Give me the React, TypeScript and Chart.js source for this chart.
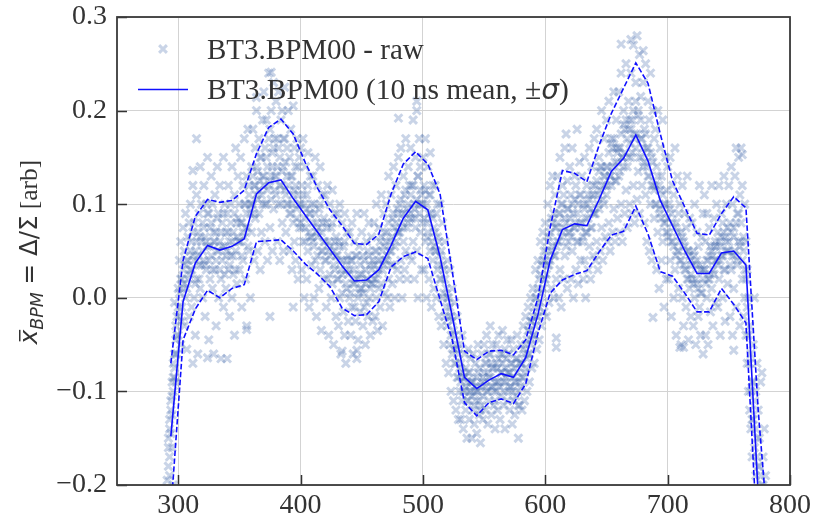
import React, { useEffect, useRef } from "react";
import { Chart, registerables } from "chart.js";

Chart.register(...registerables);

// ---------- tick labels ----------
const xTicks = [300, 400, 500, 600, 700, 800];
const yTicks = [-0.2, -0.1, 0.0, 0.1, 0.2, 0.3];

// ---------- 10 ns mean and ±sigma ----------
const lineX = [294, 304, 314, 324, 334, 344, 354, 364, 374, 384, 394, 404, 414, 424, 434, 444, 454, 464, 474, 484, 494, 504, 514, 524, 534, 544, 554, 564, 574, 584, 594, 604, 614, 624, 634, 644, 654, 664, 674, 684, 694, 704, 714, 724, 734, 744, 754, 764, 774, 784];
const meanY = [-0.148, -0.004, 0.037, 0.056, 0.051, 0.055, 0.063, 0.111, 0.123, 0.126, 0.106, 0.088, 0.070, 0.052, 0.034, 0.018, 0.019, 0.030, 0.056, 0.085, 0.103, 0.094, 0.044, -0.020, -0.085, -0.097, -0.088, -0.081, -0.085, -0.064, -0.018, 0.040, 0.073, 0.079, 0.077, 0.105, 0.135, 0.149, 0.174, 0.146, 0.104, 0.077, 0.050, 0.026, 0.026, 0.048, 0.050, 0.035, -0.210, -0.360];
const upperY = [-0.070, 0.040, 0.087, 0.105, 0.102, 0.104, 0.115, 0.154, 0.182, 0.191, 0.175, 0.144, 0.117, 0.094, 0.077, 0.058, 0.057, 0.068, 0.111, 0.143, 0.156, 0.143, 0.111, 0.028, -0.057, -0.066, -0.057, -0.056, -0.061, -0.045, 0.000, 0.075, 0.136, 0.133, 0.124, 0.163, 0.197, 0.224, 0.251, 0.229, 0.175, 0.125, 0.097, 0.069, 0.067, 0.090, 0.108, 0.096, -0.120, -0.280];
const lowerY = [-0.228, -0.045, -0.012, 0.008, 0.000, 0.010, 0.014, 0.060, 0.061, 0.062, 0.050, 0.036, 0.025, 0.012, -0.011, -0.019, -0.018, -0.004, 0.033, 0.044, 0.049, 0.042, -0.002, -0.045, -0.112, -0.126, -0.112, -0.108, -0.113, -0.092, -0.038, 0.005, 0.019, 0.025, 0.029, 0.049, 0.067, 0.071, 0.098, 0.068, 0.028, 0.023, 0.005, -0.015, -0.015, 0.010, -0.007, -0.027, -0.275, -0.420];

// ---------- raw samples (x, y pairs) : spread ----------
const rawA = [
  291,-.195, 292,-.18, 292,-.16, 293,-.13, 293,-.17, 294,-.11, 294,-.145, 295,-.09, 295,-.125, 296,-.07, 296,-.1, 297,-.06, 297,-.085, 298,-.045, 298,-.03, 299,-.02, 299,-.06, 296,-.2, 293,-.19, 297,-.005,
  300,-.04, 300,.01, 301,-.02, 301,.04, 302,.06, 302,-.05, 303,.02, 303,-.01, 304,.03, 304,.075, 305,-.03, 305,.05, 306,0, 306,.09, 307,.04, 307,-.055, 308,.065, 308,.02, 309,.08, 309,-.02,
  310,.1, 310,.03, 311,-.01, 311,.06, 312,.12, 312,.045, 313,0, 313,.08, 314,.05, 314,-.04, 315,.11, 315,.02, 316,.07, 316,-.06, 317,.09, 317,.035, 318,.14, 318,.01, 319,.06, 319,.1, 315,.17, 312,.136, 312,-.07,
  320,0, 320,.08, 321,.12, 321,.04, 322,-.02, 322,.065, 323,.1, 323,.03, 324,.15, 324,.055, 325,-.045, 325,.09, 326,.02, 326,.075, 327,.13, 327,.045, 328,.01, 328,.1, 329,.06, 329,-.06, 324,-.064,
  330,.11, 330,.03, 331,.07, 331,-.03, 332,.14, 332,.05, 333,0, 333,.09, 334,.06, 334,.12, 335,-.065, 335,.02, 336,.08, 336,.04, 337,.15, 337,-.01, 338,.1, 338,.055, 339,.01, 339,.07,
  340,-.065, 340,.09, 341,.03, 341,.12, 342,.06, 342,-.02, 343,.1, 343,.045, 344,.14, 344,0, 345,.07, 345,.025, 346,.11, 346,-.04, 347,.05, 347,.16, 348,.08, 348,.015, 349,.13, 349,.06,
];
const rawB = [
  350,.1, 350,.03, 351,.15, 351,.06, 352,-.01, 352,.08, 353,.12, 353,.04, 354,.17, 354,.065, 355,.02, 355,.1, 356,.13, 356,-.03, 357,.075, 357,.18, 358,.05, 358,.11, 359,.09, 359,0, 356,-.034,
  360,.14, 360,.07, 361,.18, 361,.1, 362,.04, 362,.12, 363,.16, 363,.085, 364,.2, 364,.11, 365,.05, 365,.135, 366,.09, 366,.17, 367,.125, 367,.03, 368,.15, 368,.07, 369,.19, 369,.1, 364,.214,
  370,.22, 370,.12, 371,.06, 371,.16, 372,.19, 372,.1, 373,.04, 373,.14, 374,.24, 374,.12, 375,.075, 375,.18, 376,.2, 376,.13, 377,.05, 377,.155, 378,.23, 378,.095, 379,.17, 379,.115, 376,.241, 375,-.02,
  380,.21, 380,.13, 381,.06, 381,.17, 382,.22, 382,.1, 383,.15, 383,.04, 384,.19, 384,.12, 385,.08, 385,.2, 386,.14, 386,.05, 387,.17, 387,.225, 388,.11, 388,.07, 389,.16, 389,.13,
  390,.2, 390,.1, 391,.05, 391,.15, 392,.18, 392,.09, 393,.13, 393,.03, 394,.205, 394,.11, 395,.06, 395,.16, 396,.12, 396,.04, 397,.17, 397,.085, 398,.14, 398,.02, 399,.1, 399,.15, 394,-.01,
  400,.16, 400,.08, 401,.03, 401,.12, 402,.17, 402,.06, 403,.1, 403,0, 404,.14, 404,.075, 405,.02, 405,.11, 406,.155, 406,.05, 407,.09, 407,-.01, 408,.13, 408,.065, 409,.1, 409,.035,
  410,.13, 410,.06, 411,0, 411,.1, 412,.15, 412,.04, 413,.08, 413,-.02, 414,.12, 414,.065, 415,.01, 415,.095, 416,.14, 416,.03, 417,.07, 417,-.035, 418,.11, 418,.05, 419,.085, 419,.02,
  420,.11, 420,.04, 421,-.01, 421,.08, 422,.12, 422,.02, 423,.06, 423,-.04, 424,.1, 424,.045, 425,0, 425,.075, 426,.115, 426,.015, 427,.05, 427,-.05, 428,.09, 428,.03, 429,.065, 429,-.02,
  430,.09, 430,.02, 431,-.03, 431,.06, 432,.1, 432,0, 433,.04, 433,-.06, 434,.08, 434,.025, 435,-.015, 435,.055, 436,.09, 436,-.04, 437,.03, 437,-.07, 438,.07, 438,.01, 439,.045, 439,-.025, 434,-.057,
  440,.07, 440,0, 441,-.04, 441,.04, 442,.08, 442,-.01, 443,.03, 443,-.06, 444,.06, 444,.015, 445,-.025, 445,.045, 446,.09, 446,-.065, 447,.02, 447,-.045, 448,.055, 448,.005, 449,.035, 449,-.015, 446,-.056,
];
const rawC = [
  450,.07, 450,.01, 451,-.03, 451,.045, 452,.09, 452,-.01, 453,.03, 453,-.05, 454,.06, 454,.02, 455,-.02, 455,.05, 456,.08, 456,0, 457,.035, 457,-.04, 458,.065, 458,.015, 459,.04, 459,-.025,
  460,.08, 460,.02, 461,-.02, 461,.05, 462,.1, 462,0, 463,.04, 463,-.035, 464,.075, 464,.03, 465,-.01, 465,.06, 466,.11, 466,.015, 467,.05, 467,-.03, 468,.09, 468,.035, 469,.07, 469,.005,
  470,.1, 470,.04, 471,0, 471,.07, 472,.13, 472,.02, 473,.06, 473,-.01, 474,.11, 474,.05, 475,.015, 475,.085, 476,.14, 476,.035, 477,.075, 477,0, 478,.12, 478,.06, 479,.095, 479,.03,
  480,.15, 480,.07, 481,.02, 481,.1, 482,.16, 482,.04, 483,.09, 483,0, 484,.13, 484,.075, 485,.03, 485,.11, 486,.17, 486,.05, 487,.095, 487,.02, 488,.14, 488,.08, 489,.12, 489,.045, 480,.192,
  490,.16, 490,.09, 491,.04, 491,.12, 492,.19, 492,.06, 493,.1, 493,.02, 494,.15, 494,.085, 495,.2, 495,.05, 496,.13, 496,0, 497,.17, 497,.1, 498,.07, 498,.14, 499,.03, 499,.11, 495,.21,
  500,.15, 500,.08, 501,.03, 501,.12, 502,.17, 502,.06, 503,.1, 503,0, 504,.14, 504,.07, 505,.02, 505,.11, 506,.155, 506,.05, 507,.09, 507,-.01, 508,.12, 508,.04, 509,.075, 509,.01,
  510,.12, 510,.05, 511,0, 511,.09, 512,.1, 512,.03, 513,-.02, 513,.06, 514,.1, 514,.02, 515,-.03, 515,.05, 516,.08, 516,0, 517,-.05, 517,.03, 518,.06, 518,-.02, 519,-.07, 519,.01,
  520,.04, 520,-.03, 521,-.08, 521,0, 522,.03, 522,-.05, 523,-.1, 523,-.02, 524,.01, 524,-.06, 525,-.035, 525,-.11, 526,-.005, 526,-.07, 527,-.05, 527,-.12, 528,-.02, 528,-.085, 529,-.06, 529,-.13,
  530,-.05, 530,-.1, 531,-.13, 531,-.07, 532,-.04, 532,-.11, 533,-.085, 533,-.14, 534,-.06, 534,-.1, 535,-.12, 535,-.075, 536,-.15, 536,-.09, 537,-.055, 537,-.11, 538,-.08, 538,-.13, 539,-.1, 539,-.065,
  540,-.15, 540,-.09, 541,-.06, 541,-.12, 542,-.1, 542,-.135, 543,-.07, 543,-.11, 544,-.085, 544,-.145, 545,-.05, 545,-.1, 546,-.125, 546,-.075, 547,-.155, 547,-.095, 548,-.06, 548,-.115, 549,-.085, 549,-.13,
  550,-.05, 550,-.09, 551,-.12, 551,-.07, 552,-.04, 552,-.1, 553,-.08, 553,-.135, 554,-.06, 554,-.11, 555,-.085, 555,-.03, 556,-.125, 556,-.07, 557,-.095, 557,-.05, 558,-.115, 558,-.075, 559,-.14, 559,-.09,
];
const rawD = [
  560,-.05, 560,-.1, 561,-.075, 561,-.12, 562,-.04, 562,-.09, 563,-.06, 563,-.13, 564,-.08, 564,-.105, 565,-.035, 565,-.07, 566,-.115, 566,-.09, 567,-.055, 567,-.14, 568,-.085, 568,-.065, 569,-.11, 569,-.045,
  570,-.06, 570,-.1, 571,-.12, 571,-.08, 572,-.045, 572,-.095, 573,-.135, 573,-.07, 574,-.11, 574,-.055, 575,-.09, 575,-.125, 576,-.065, 576,-.105, 577,-.04, 577,-.08, 578,-.15, 578,-.1, 579,-.07, 579,-.115,
  580,-.05, 580,-.095, 581,-.12, 581,-.07, 582,-.03, 582,-.085, 583,-.06, 583,-.11, 584,-.02, 584,-.075, 585,-.045, 585,-.1, 586,-.01, 586,-.06, 587,-.035, 587,-.09, 588,0, 588,-.05, 589,-.025, 589,-.075,
  590,.01, 590,-.04, 591,-.07, 591,-.01, 592,.03, 592,-.03, 593,-.055, 593,0, 594,.04, 594,-.02, 595,-.045, 595,.02, 596,.06, 596,-.005, 597,-.03, 597,.035, 598,.07, 598,.01, 599,-.015, 599,.05,
  600,.08, 600,.02, 601,-.02, 601,.05, 602,.1, 602,.035, 603,-.005, 603,.065, 604,.12, 604,.04, 605,.01, 605,.085, 606,.13, 606,.055, 607,0, 607,.09, 608,.11, 608,.045, 609,.075, 609,.02, 609,-.043, 609,-.053,
  610,.13, 610,.06, 611,0, 611,.09, 612,.15, 612,.03, 613,.1, 613,-.01, 614,.12, 614,.07, 615,.02, 615,.11, 616,.16, 616,.045, 617,.175, 617,.08, 618,.01, 618,.125, 619,.06, 619,.095,
  620,.14, 620,.07, 621,.02, 621,.11, 622,.16, 622,.05, 623,.09, 623,0, 624,.13, 624,.075, 625,.03, 625,.12, 626,.18, 626,.06, 627,.1, 627,.015, 628,.145, 628,.08, 629,.04, 629,.11,
  630,.13, 630,.06, 631,.02, 631,.1, 632,.15, 632,.04, 633,.085, 633,0, 634,.12, 634,.07, 635,.03, 635,.11, 636,.16, 636,.055, 637,.095, 637,.02, 638,.14, 638,.075, 639,.12, 639,.045,
  640,.17, 640,.09, 641,.04, 641,.12, 642,.18, 642,.06, 643,.11, 643,.03, 644,.15, 644,.095, 645,.05, 645,.14, 646,.2, 646,.075, 647,.12, 647,.04, 648,.17, 648,.1, 649,.065, 649,.13,
  650,.19, 650,.11, 651,.06, 651,.14, 652,.21, 652,.08, 653,.13, 653,.05, 654,.17, 654,.12, 655,.07, 655,.16, 656,.22, 656,.095, 657,.145, 657,.06, 658,.19, 658,.125, 659,.085, 659,.155,
  660,.22, 660,.13, 661,.07, 661,.16, 662,.24, 662,.1, 663,.15, 663,.06, 664,.2, 664,.14, 665,.09, 665,.18, 666,.25, 666,.115, 667,.17, 667,.075, 668,.21, 668,.15, 669,.1, 669,.19, 662,.271,
];
const rawE = [
  670,.24, 670,.15, 671,.09, 671,.19, 672,.27, 672,.12, 673,.175, 673,.08, 674,.23, 674,.16, 675,.28, 675,.105, 676,.2, 676,.135, 677,.26, 677,.09, 678,.17, 678,.215, 679,.12, 679,.15, 670,.276, 680,.264,
  680,.23, 680,.14, 681,.08, 681,.18, 682,.25, 682,.11, 683,.16, 683,.06, 684,.21, 684,.13, 685,.05, 685,.19, 686,.24, 686,.1, 687,.15, 687,.04, 688,.2, 688,.12, 689,.085, 689,.17, 688,-.021,
  690,.18, 690,.1, 691,.03, 691,.14, 692,.2, 692,.07, 693,.12, 693,.01, 694,.16, 694,.09, 695,.04, 695,.13, 696,.19, 696,.06, 697,.1, 697,-.01, 698,.15, 698,.08, 699,.02, 699,.115,
  700,.14, 700,.07, 701,.02, 701,.1, 702,.15, 702,.04, 703,.09, 703,-.02, 704,.12, 704,.06, 705,0, 705,.11, 706,.16, 706,.03, 707,.08, 707,-.04, 708,.13, 708,.05, 709,.01, 709,.09,
  710,.1, 710,.04, 711,-.05, 711,.07, 712,.12, 712,0, 713,.06, 713,-.03, 714,.09, 714,.03, 715,-.01, 715,.075, 716,.13, 716,.02, 717,.05, 717,-.045, 718,.085, 718,.01, 719,.04, 719,-.02, 710,-.053, 713,-.053,
  720,.08, 720,.02, 721,-.03, 721,.05, 722,.1, 722,0, 723,.035, 723,-.05, 724,.07, 724,.015, 725,-.02, 725,.055, 726,.12, 726,-.01, 727,.03, 727,-.04, 728,.065, 728,.005, 729,.09, 729,-.06,
  730,.11, 730,.03, 731,-.04, 731,.06, 732,.09, 732,0, 733,-.05, 733,.04, 734,.075, 734,.02, 735,-.015, 735,.055, 736,.12, 736,.01, 737,.045, 737,-.03, 738,.085, 738,.025, 739,.06, 739,-.005,
  740,.1, 740,.04, 741,-.01, 741,.07, 742,.12, 742,.02, 743,.055, 743,-.04, 744,.09, 744,.045, 745,0, 745,.08, 746,.13, 746,.03, 747,.065, 747,-.025, 748,.1, 748,.05, 749,.015, 749,.075,
  750,.12, 750,.05, 751,-.02, 751,.08, 752,.14, 752,.03, 753,.1, 753,-.04, 754,.065, 754,.01, 755,.13, 755,.045, 756,.16, 756,-.01, 757,.09, 757,.035, 758,.15, 758,.06, 759,-.03, 759,.11, 754,-.056,
  760,.16, 760,.08, 761,.02, 761,.12, 762,.05, 762,-.02, 763,.1, 763,0, 764,.06, 764,-.04, 765,.03, 765,-.07, 766,0, 766,-.1, 767,-.03, 767,-.12, 768,-.06, 768,-.14, 769,-.09, 769,-.17, 761,.153,
  770,-.05, 770,-.13, 771,0, 771,-.16, 772,-.1, 772,-.19, 773,-.07, 773,-.15, 774,-.12, 775,-.18, 776,-.09, 777,-.08, 777,-.2, 778,-.17, 779,-.14, 780,-.19,
];

// ---------- raw samples (x, y pairs) : dense core near the mean ----------
const coreA = [
  292,-.15, 293,-.14, 294,-.12, 295,-.105, 296,-.085, 297,-.075, 298,-.06, 299,-.04, 295,-.16, 298,-.09,
  300,-.01, 301,.005, 302,.02, 303,-.025, 304,.01, 305,.015, 306,.035, 307,.01, 308,.04, 309,.025,
  310,.05, 311,.03, 312,.07, 313,.04, 314,.015, 315,.06, 316,.045, 317,.02, 318,.065, 319,.035,
  320,.05, 321,.075, 322,.035, 323,.06, 324,.09, 325,.04, 326,.055, 327,.08, 328,.03, 329,.07,
  330,.06, 331,.04, 332,.085, 333,.05, 334,.03, 335,.07, 336,.055, 337,.09, 338,.025, 339,.045,
  340,.05, 341,.07, 342,.035, 343,.08, 344,.06, 345,.045, 346,.09, 347,.03, 348,.065, 349,.085,
  350,.06, 351,.08, 352,.045, 353,.07, 354,.1, 355,.075, 356,.09, 357,.055, 358,.12, 359,.1,
  360,.1, 361,.13, 362,.09, 363,.12, 364,.14, 365,.105, 366,.115, 367,.15, 368,.11, 369,.13,
  370,.13, 371,.1, 372,.15, 373,.115, 374,.17, 375,.125, 376,.105, 377,.14, 378,.16, 379,.13,
  380,.11, 381,.14, 382,.16, 383,.12, 384,.1, 385,.135, 386,.17, 387,.115, 388,.145, 389,.1,
];
const coreB = [
  390,.12, 391,.09, 392,.13, 393,.1, 394,.08, 395,.115, 396,.14, 397,.095, 398,.11, 399,.075,
  400,.1, 401,.075, 402,.11, 403,.085, 404,.06, 405,.095, 406,.12, 407,.07, 408,.09, 409,.065,
  410,.08, 411,.055, 412,.09, 413,.07, 414,.045, 415,.075, 416,.1, 417,.05, 418,.08, 419,.06,
  420,.06, 421,.04, 422,.075, 423,.05, 424,.025, 425,.055, 426,.08, 427,.035, 428,.06, 429,.045,
  430,.045, 431,.02, 432,.055, 433,.03, 434,.005, 435,.04, 436,.06, 437,.015, 438,.04, 439,.025,
  440,.03, 441,.005, 442,.04, 443,.015, 444,-.01, 445,.02, 446,.045, 447,0, 448,.025, 449,.01,
  450,.025, 451,.005, 452,.04, 453,.015, 454,-.005, 455,.02, 456,.045, 457,.01, 458,.03, 459,.015,
  460,.035, 461,.02, 462,.05, 463,.025, 464,.01, 465,.04, 466,.065, 467,.03, 468,.055, 469,.04,
  470,.06, 471,.045, 472,.08, 473,.05, 474,.035, 475,.065, 476,.09, 477,.055, 478,.08, 479,.07,
  480,.09, 481,.07, 482,.105, 483,.08, 484,.06, 485,.09, 486,.115, 487,.075, 488,.1, 489,.085,
];
const coreC = [
  490,.11, 491,.085, 492,.12, 493,.095, 494,.075, 495,.105, 496,.13, 497,.09, 498,.115, 499,.1,
  500,.1, 501,.085, 502,.115, 503,.08, 504,.065, 505,.09, 506,.11, 507,.06, 508,.085, 509,.055,
  510,.07, 511,.05, 512,.065, 513,.035, 514,.045, 515,.02, 516,.035, 517,.005, 518,.02, 519,-.01,
  520,0, 521,-.02, 522,-.01, 523,-.04, 524,-.025, 525,-.055, 526,-.04, 527,-.07, 528,-.055, 529,-.085,
  530,-.075, 531,-.09, 532,-.08, 533,-.1, 534,-.085, 535,-.095, 536,-.11, 537,-.08, 538,-.1, 539,-.09,
  540,-.105, 541,-.09, 542,-.115, 543,-.095, 544,-.1, 545,-.08, 546,-.11, 547,-.12, 548,-.09, 549,-.105,
  550,-.08, 551,-.095, 552,-.07, 553,-.1, 554,-.085, 555,-.06, 556,-.095, 557,-.075, 558,-.1, 559,-.11,
  560,-.07, 561,-.09, 562,-.065, 563,-.095, 564,-.08, 565,-.06, 566,-.1, 567,-.075, 568,-.09, 569,-.08,
  570,-.08, 571,-.095, 572,-.07, 573,-.1, 574,-.085, 575,-.075, 576,-.09, 577,-.065, 578,-.115, 579,-.09,
  580,-.07, 581,-.085, 582,-.055, 583,-.08, 584,-.05, 585,-.065, 586,-.035, 587,-.06, 588,-.025, 589,-.045,
];
const coreD = [
  590,-.02, 591,-.04, 592,0, 593,-.02, 594,.01, 595,-.01, 596,.025, 597,.005, 598,.04, 599,.02,
  600,.04, 601,.025, 602,.06, 603,.035, 604,.07, 605,.05, 606,.08, 607,.045, 608,.075, 609,.055,
  610,.08, 611,.06, 612,.09, 613,.065, 614,.1, 615,.075, 616,.085, 617,.055, 618,.095, 619,.07,
  620,.085, 621,.065, 622,.1, 623,.075, 624,.105, 625,.08, 626,.09, 627,.06, 628,.11, 629,.075,
  630,.08, 631,.065, 632,.095, 633,.07, 634,.1, 635,.085, 636,.105, 637,.075, 638,.11, 639,.09,
  640,.11, 641,.09, 642,.125, 643,.1, 644,.135, 645,.115, 646,.14, 647,.105, 648,.13, 649,.12,
  650,.14, 651,.12, 652,.155, 653,.13, 654,.165, 655,.14, 656,.17, 657,.125, 658,.16, 659,.145,
  660,.16, 661,.135, 662,.175, 663,.15, 664,.185, 665,.155, 666,.19, 667,.14, 668,.18, 669,.165,
  670,.18, 671,.155, 672,.2, 673,.17, 674,.21, 675,.175, 676,.195, 677,.15, 678,.19, 679,.17,
];
const coreE = [
  680,.16, 681,.145, 682,.175, 683,.14, 684,.16, 685,.13, 686,.155, 687,.12, 688,.145, 689,.115,
  690,.12, 691,.1, 692,.13, 693,.095, 694,.115, 695,.085, 696,.11, 697,.08, 698,.1, 699,.07,
  700,.085, 701,.065, 702,.095, 703,.06, 704,.08, 705,.055, 706,.075, 707,.045, 708,.07, 709,.05,
  710,.06, 711,.04, 712,.065, 713,.035, 714,.055, 715,.03, 716,.05, 717,.02, 718,.045, 719,.025,
  720,.035, 721,.015, 722,.045, 723,.02, 724,.04, 725,.01, 726,.035, 727,.005, 728,.03, 729,.02,
  730,.03, 731,.015, 732,.04, 733,.02, 734,.045, 735,.025, 736,.05, 737,.03, 738,.055, 739,.04,
  740,.055, 741,.035, 742,.06, 743,.04, 744,.065, 745,.045, 746,.07, 747,.03, 748,.06, 749,.05,
  750,.06, 751,.035, 752,.07, 753,.045, 754,.075, 755,.05, 756,.08, 757,.04, 758,.09, 759,.055,
  760,.06, 761,.04, 762,.065, 763,.03, 764,.02, 765,-.01, 766,-.04, 767,-.07, 768,-.1, 769,-.13,
  770,-.09, 771,-.11, 772,-.14, 773,-.17, 774,-.18, 775,-.15, 776,-.19, 778,-.2,
];

const RAW_COLOR = "rgba(76,114,176,0.3)";
const LINE_COLOR = "#1010ff";
const TEXT_COLOR = "#333333";
const SERIF = '"Liberation Serif", "Times New Roman", serif';
const SANS = '"DejaVu Sans", sans-serif';

function toPairs(flat: number[]) {
  const out: { x: number; y: number }[] = [];
  for (let i = 0; i + 1 < flat.length; i += 2) out.push({ x: flat[i], y: flat[i + 1] });
  return out;
}
function toLine(ys: number[]) {
  return lineX.map((x, i) => ({ x, y: ys[i] }));
}

const framePlugin = {
  id: "mplFrame",
  afterDatasetsDraw(chart: any) {
    const { ctx, chartArea: a, scales } = chart;
    ctx.save();
    ctx.strokeStyle = "#333333";
    ctx.lineWidth = 1.5;
    ctx.beginPath();
    for (const v of yTicks) {
      const y = Math.round(scales.y.getPixelForValue(v)) + 0.5;
      ctx.moveTo(a.left, y);
      ctx.lineTo(a.left + 10, y);
    }
    for (const v of xTicks) {
      const x = Math.round(scales.x.getPixelForValue(v)) + 0.5;
      ctx.moveTo(x, a.bottom);
      ctx.lineTo(x, a.bottom - 10);
    }
    ctx.stroke();
    ctx.lineWidth = 1.8;
    ctx.strokeStyle = "#3a3a3a";
    ctx.strokeRect(a.left, a.top, a.right - a.left, a.bottom - a.top);
    ctx.restore();
  },
  afterDraw(chart: any) {
    const { ctx } = chart;
    ctx.save();
    // ----- legend -----
    const mx = 163, my = 49, r = 5.5;
    ctx.strokeStyle = RAW_COLOR;
    ctx.lineWidth = 3;
    const d = r * Math.SQRT1_2;
    ctx.beginPath();
    ctx.moveTo(mx - d, my - d); ctx.lineTo(mx + d, my + d);
    ctx.moveTo(mx + d, my - d); ctx.lineTo(mx - d, my + d);
    ctx.stroke();
    ctx.strokeStyle = LINE_COLOR;
    ctx.lineWidth = 1.6;
    ctx.beginPath();
    ctx.moveTo(138, 89.5); ctx.lineTo(188, 89.5);
    ctx.stroke();

    ctx.fillStyle = TEXT_COLOR;
    ctx.textBaseline = "alphabetic";
    ctx.textAlign = "left";
    ctx.font = `29px ${SERIF}`;
    ctx.fillText("BT3.BPM00 - raw", 207, 58.5);
    let tx = 207;
    const s1 = "BT3.BPM00 (10 ns mean, \u00b1";
    ctx.font = `29.5px ${SERIF}`;
    ctx.fillText(s1, tx, 98.5);
    tx += ctx.measureText(s1).width;
    ctx.font = `italic 28px ${SANS}`;
    ctx.fillText("\u03c3", tx, 98.5);
    tx += ctx.measureText("\u03c3").width;
    ctx.font = `29.5px ${SERIF}`;
    ctx.fillText(")", tx, 98.5);

    // ----- y-axis label (rotated) -----
    const pieces = [
      { t: "x", f: `italic 24.5px ${SANS}`, dy: 0 },
      { t: "BPM", f: `italic 17.5px ${SANS}`, dy: 5.5 },
      { t: " = \u0394/\u03a3", f: `24.5px ${SANS}`, dy: 0 },
      { t: " [arb]", f: `25.5px ${SERIF}`, dy: 0 },
    ];
    let total = 0;
    const widths: number[] = [];
    for (const p of pieces) {
      ctx.font = p.f;
      const w = ctx.measureText(p.t).width;
      widths.push(w);
      total += w;
    }
    const cx = 37, cy = 252;
    ctx.translate(cx, cy);
    ctx.rotate(-Math.PI / 2);
    let u = -total / 2;
    pieces.forEach((p, i) => {
      ctx.font = p.f;
      ctx.fillText(p.t, u, p.dy);
      if (i === 0) {
        ctx.fillRect(u + 3, -18, widths[0] - 3, 1.5);
      }
      u += widths[i];
    });
    ctx.restore();
  },
};

export default function App() {
  const ref = useRef<HTMLCanvasElement | null>(null);

  useEffect(() => {
    document.body.style.margin = "0";
    const canvas = ref.current;
    if (!canvas) return;
    const rawPts = [
      ...toPairs(rawA), ...toPairs(rawB), ...toPairs(rawC), ...toPairs(rawD), ...toPairs(rawE),
      ...toPairs(coreA), ...toPairs(coreB), ...toPairs(coreC), ...toPairs(coreD), ...toPairs(coreE),
    ];
    const chart = new Chart(canvas, {
      type: "scatter",
      data: {
        datasets: [
          {
            type: "scatter",
            label: "BT3.BPM00 - raw",
            data: rawPts,
            pointStyle: "crossRot",
            pointRadius: 5.5,
            pointBorderWidth: 3,
            pointBorderColor: RAW_COLOR,
            pointBackgroundColor: "rgba(0,0,0,0)",
            order: 5,
          } as any,
          {
            type: "line",
            label: "mean",
            data: toLine(meanY),
            borderColor: LINE_COLOR,
            borderWidth: 1.6,
            pointRadius: 0,
            fill: false,
            tension: 0,
            order: 1,
          } as any,
          {
            type: "line",
            label: "+sigma",
            data: toLine(upperY),
            borderColor: LINE_COLOR,
            borderWidth: 1.6,
            borderDash: [5.5, 2.4],
            pointRadius: 0,
            fill: false,
            tension: 0,
            order: 2,
          } as any,
          {
            type: "line",
            label: "-sigma",
            data: toLine(lowerY),
            borderColor: LINE_COLOR,
            borderWidth: 1.6,
            borderDash: [5.5, 2.4],
            pointRadius: 0,
            fill: false,
            tension: 0,
            order: 2,
          } as any,
        ],
      },
      options: {
        animation: false,
        responsive: false,
        events: [],
        layout: { padding: { top: 17, right: 23, left: 0, bottom: 0 } },
        plugins: { legend: { display: false }, tooltip: { enabled: false }, title: { display: false } },
        scales: {
          x: {
            type: "linear",
            min: 250,
            max: 800,
            afterBuildTicks: (s: any) => {
              s.ticks = xTicks.map((v) => ({ value: v }));
            },
            afterFit: (s: any) => {
              s.height = 34;
              s.paddingLeft = 0;
              s.paddingRight = 0;
            },
            grid: { color: "#d3d3d3", lineWidth: 1, drawTicks: false },
            border: { display: false },
            ticks: {
              padding: 4,
              color: TEXT_COLOR,
              font: { family: SERIF, size: 28 },
              maxRotation: 0,
              autoSkip: false,
              callback: (v: any) => String(v),
            },
          },
          y: {
            type: "linear",
            min: -0.2,
            max: 0.3,
            afterBuildTicks: (s: any) => {
              s.ticks = yTicks.map((v) => ({ value: v }));
            },
            afterFit: (s: any) => {
              s.width = 117;
              s.paddingTop = 0;
              s.paddingBottom = 0;
            },
            grid: { color: "#d3d3d3", lineWidth: 1, drawTicks: false },
            border: { display: false },
            ticks: {
              padding: 10,
              color: TEXT_COLOR,
              font: { family: SERIF, size: 28 },
              autoSkip: false,
              callback: (v: any) => {
                const n = Number(v);
                const s = Math.abs(n).toFixed(1);
                return n < -1e-9 ? "\u2212" + s : s;
              },
            },
          },
        },
      } as any,
      plugins: [framePlugin],
    });
    return () => chart.destroy();
  }, []);

  return (
    <div style={{ width: 813, height: 519, position: "relative" }}>
      <canvas ref={ref} width={813} height={519} style={{ display: "block" }} />
    </div>
  );
}
